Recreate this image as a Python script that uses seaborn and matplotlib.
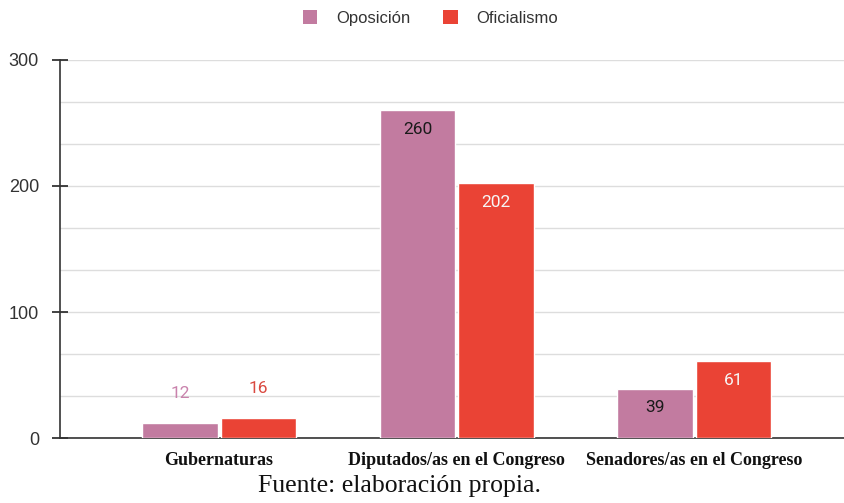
import matplotlib.pyplot as plt
import seaborn as sns
import pandas as pd
from matplotlib.patches import Patch

# Data
categories = ["Gubernaturas", "Diputados/as en el Congreso", "Senadores/as en el Congreso"]
oposicion = [12, 260, 39]
oficialismo = [16, 202, 61]
series = ["Oposición", "Oficialismo"]
colors = ["#C27BA0", "#EA4335"]

df = pd.DataFrame({
    "categoria": categories * 2,
    "valor": oposicion + oficialismo,
    "grupo": [series[0]] * len(categories) + [series[1]] * len(categories),
})

# Style
sns.set_style("white")
plt.rcParams['font.family'] = ['Roboto', 'DejaVu Sans']

fig = plt.figure(figsize=(8.44, 5.03), dpi=100)
ax = fig.add_axes([0.071, 0.129, 0.929, 0.752])

sns.barplot(data=df, x="categoria", y="valor", hue="grupo", hue_order=series,
            palette=colors, width=0.66, gap=0.04, saturation=1,
            legend=False, ax=ax, zorder=3)

# Axes
ax.set_ylim(0, 300)
ax.set_xlim(-0.67, 2.63)
ax.set_yticks([0, 100, 200, 300])
ax.set_yticks([100 / 3 * i for i in range(1, 9) if i % 3], minor=True)
ax.grid(True, axis="y", which="both", color="#dddddd", lw=1, zorder=0)
ax.set_axisbelow(True)
ax.tick_params(axis="y", which="major", left=True, direction="inout", length=12, width=1.2,
               color="#222222", labelsize=13, labelcolor="#333333", pad=9)
ax.tick_params(axis="y", which="minor", length=0)
ax.tick_params(axis="x", length=0, pad=10)
ax.set_xlabel("")
ax.set_ylabel("")
for lbl in ax.get_yticklabels():
    lbl.set_fontfamily("Liberation Sans")
for lbl in ax.get_xticklabels():
    lbl.set_fontfamily("Liberation Serif")
    lbl.set_fontweight("bold")
    lbl.set_fontsize(13)
    lbl.set_color("#111111")

for s in ["top", "right"]:
    ax.spines[s].set_visible(False)
for s in ["left", "bottom"]:
    ax.spines[s].set_color("#333333")
    ax.spines[s].set_linewidth(1.2)

# Value labels
outside_colors = ["#C982AC", "#DA4A41"]
inside_colors = ["#1a1a1a", "#f6f6f6"]
for i, cont in enumerate(ax.containers):
    for bar in cont:
        h = bar.get_height()
        x = bar.get_x() + bar.get_width() / 2
        if h < 30:
            ax.annotate(f"{int(h)}", (x, h), xytext=(0, 29), textcoords="offset pixels",
                        ha="center", va="center", fontsize=12.5, color=outside_colors[i])
        else:
            ax.annotate(f"{int(h)}", (x, h), xytext=(0, -19), textcoords="offset pixels",
                        ha="center", va="center", fontsize=12.5, color=inside_colors[i])

# Legend
handles = [Patch(facecolor=c, edgecolor="none") for c in colors]
fig.legend(handles, series, loc="center", bbox_to_anchor=(0.51, 0.964), ncol=2,
           frameon=False, handlelength=0.85, handleheight=0.85, handletextpad=1.1,
           columnspacing=2.0, prop={"family": "Liberation Sans", "size": 12},
           labelcolor="#333333")

# Caption
fig.text(0.473, 0.034, "Fuente: elaboración propia.", ha="center", va="center",
         fontsize=18.5, family="Liberation Serif", color="#111111")

fig.savefig("out.png", dpi=100)
